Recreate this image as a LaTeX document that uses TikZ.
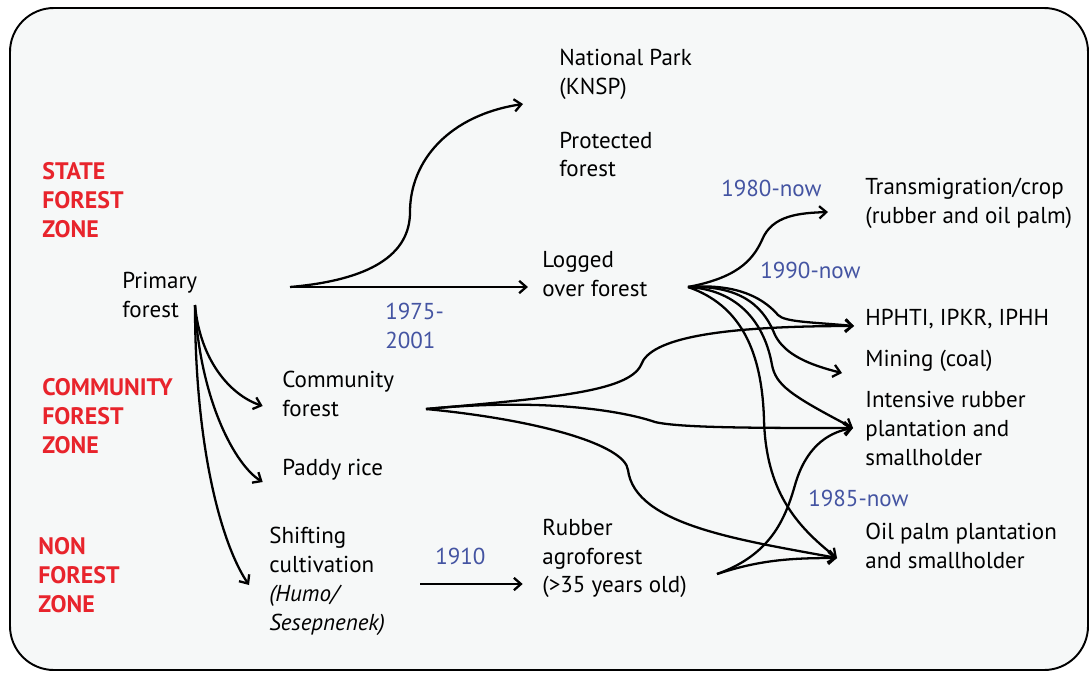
\documentclass[tikz,border=0pt]{standalone}
\usepackage{fontspec}
\setmainfont{PT Sans}
\usetikzlibrary{arrows.meta}
\definecolor{zonered}{RGB}{232,36,44}
\definecolor{yearblue}{RGB}{68,84,162}
\definecolor{panel}{RGB}{246,248,248}

\begin{document}
\begin{tikzpicture}[x=0.02cm, y=-0.02cm,
    txt/.style={anchor=west, align=left, inner sep=0pt, font=\fontsize{13.1}{16.4}\selectfont},
    zone/.style={txt, text=zonered, font=\fontsize{13.6}{16.4}\selectfont\bfseries},
    year/.style={txt, text=yearblue},
    arr/.style={line width=1.3pt, -{Straight Barb[length=4pt, width=7pt]}}]
    \useasboundingbox (0, 0) rectangle (1091, 673);
    \draw[line width=1.1pt, fill=panel, rounded corners=25pt] (10, 8) rectangle (1088, 670);

    % zones
    \node[zone] (state) at (42, 200) {STATE\\FOREST\\ZONE};
    \node[zone] (commzone) at (42, 416) {COMMUNITY\\FOREST\\ZONE};
    \node[zone] (nonzone) at (38, 575) {NON\\FOREST\\ZONE};

    % land uses
    \node[txt] (primary) at (122, 295) {Primary\\forest};
    \node[txt] (natpark) at (559, 74.5) {National Park\\(KNSP)};
    \node[txt] (protected) at (559, 154.5) {Protected\\forest};
    \node[txt] (logged) at (542, 274) {Logged\\over forest};
    \node[txt] (community) at (282, 394) {Community\\forest};
    \node[txt] (paddy) at (282, 470) {Paddy rice};
    \node[txt] (shifting) at (269, 581.5) {Shifting\\cultivation\\\textit{(Humo/}\\\textit{Sesepnenek)}};
    \node[txt] (rubber) at (542, 558.5) {Rubber\\agroforest\\(>35 years old)};
    \node[txt] (transm) at (865, 203) {Transmigration/crop\\(rubber and oil palm)};
    \node[txt] (hphti) at (865, 319) {HPHTI, IPKR, IPHH};
    \node[txt] (mining) at (865, 361) {Mining (coal)};
    \node[txt] (intensive) at (865, 428.5) {Intensive rubber\\plantation and\\smallholder};
    \node[txt] (oilpalm) at (865, 546) {Oil palm plantation\\and smallholder};

    % periods
    \node[year] (y1975) at (385, 326) {1975-\\2001};
    \node[year] (y1910) at (435, 556) {1910};
    \node[year] (y1980) at (721, 188) {1980-now};
    \node[year] (y1990) at (760, 270) {1990-now};
    \node[year] (y1985) at (808, 498) {1985-now};

    % branch points and arrow tips
    \coordinate (pf-out) at (290, 287);
    \coordinate (pf-down) at (195, 305);
    \coordinate (lo-out) at (688, 287);
    \coordinate (co-out) at (426, 409);
    \coordinate (sc-out) at (420, 584);
    \coordinate (ra-out) at (717, 574);
    \coordinate (np-in) at (523, 104);
    \coordinate (tr-in) at (828, 212);
    \coordinate (hp-in) at (854, 326);
    \coordinate (mi-in) at (842, 373);
    \coordinate (ir-in) at (853, 428);
    \coordinate (op-in) at (837, 558);

    \draw[arr] (pf-out) -- ([xshift=-8pt]pf-out -| logged.west);
    \draw[arr] (pf-out) .. controls (370, 280) and (410, 255) .. (410, 212)
        .. controls (410, 160) and (450, 115) .. (np-in);

    \draw[arr] (pf-down) .. controls (200, 360) and (230, 395) .. ([xshift=-11pt]community.west |- 0, 406);
    \draw[arr] (pf-down) .. controls (200, 400) and (235, 465) .. ([xshift=-11pt]paddy.west |- 0, 482);
    \draw[arr] (pf-down) .. controls (195, 450) and (222, 545) .. (249, 585);

    \draw[arr] (sc-out) -- ([xshift=-11pt]sc-out -| rubber.west);

    \draw[arr] (lo-out) .. controls (735, 278) and (752, 262) .. (762, 240)
        .. controls (772, 215) and (800, 213) .. (tr-in);
    \draw[arr] (lo-out) .. controls (740, 283) and (765, 300) .. (778, 315)
        .. controls (785, 322) and (810, 322) .. (hp-in);
    \draw[arr] (lo-out) .. controls (745, 285) and (765, 310) .. (775, 335)
        .. controls (785, 355) and (810, 365) .. (mi-in);
    \draw[arr] (lo-out) .. controls (740, 290) and (765, 325) .. (772, 365)
        .. controls (776, 385) and (790, 395) .. (ir-in);
    \draw[arr] (lo-out) .. controls (740, 305) and (762, 350) .. (764, 420)
        .. controls (766, 490) and (795, 525) .. (op-in);

    \draw[arr] (co-out) .. controls (550, 398) and (628, 392) .. (641, 365)
        .. controls (650, 338) and (720, 326) .. (hp-in);
    \draw[arr] (co-out) .. controls (540, 398) and (620, 410) .. (655, 422)
        .. controls (680, 428) and (760, 428) .. (ir-in);
    \draw[arr] (co-out) .. controls (540, 420) and (625, 445) .. (628, 470)
        .. controls (635, 525) and (740, 540) .. (op-in);

    \draw[arr] (ra-out) .. controls (760, 560) and (790, 558) .. (op-in);
    \draw[arr] (ra-out) .. controls (770, 555) and (785, 520) .. (795, 485)
        .. controls (805, 450) and (825, 433) .. (ir-in);
\end{tikzpicture}
\end{document}
